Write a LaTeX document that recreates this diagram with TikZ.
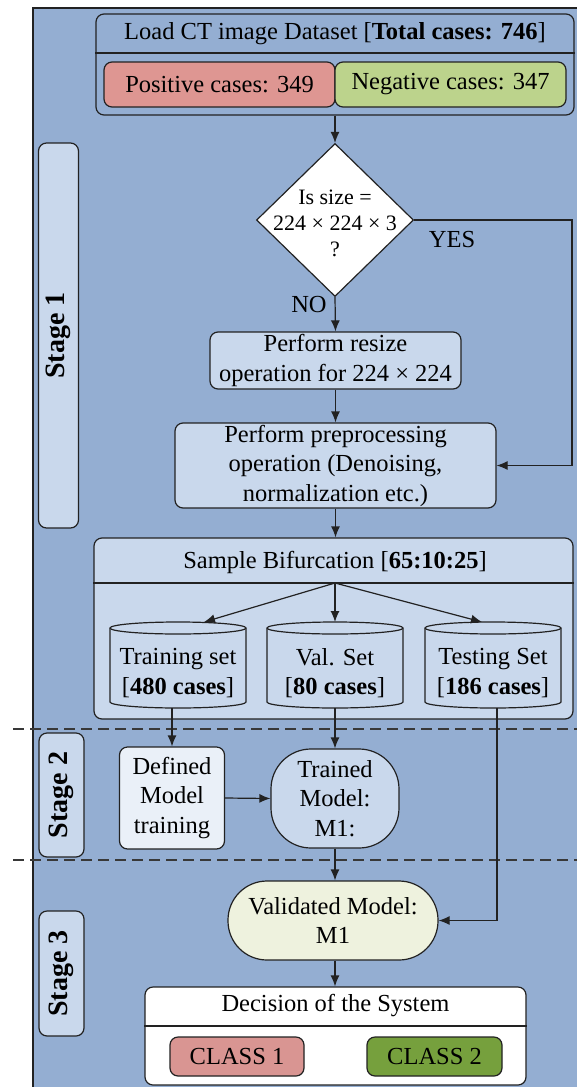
\documentclass[tikz,border=0pt]{standalone}
\usepackage{fontspec}
\setmainfont{Liberation Serif}
\usetikzlibrary{arrows.meta,shapes.geometric}
\definecolor{bgblue}{HTML}{94AED2}
\definecolor{boxblue}{HTML}{C9D8EC}
\definecolor{paleblue}{HTML}{EAF0F8}
\definecolor{posred}{HTML}{DE9692}
\definecolor{neggreen}{HTML}{BCD38C}
\definecolor{clsred}{HTML}{D99592}
\definecolor{clsgreen}{HTML}{76A03D}
\definecolor{valyellow}{HTML}{EEF2DE}
\definecolor{ink}{HTML}{222222}

\tikzset{
  panel/.style={draw=ink, rounded corners=8pt, inner sep=0pt},
  stepbox/.style={panel, fill=boxblue, align=center},
  label/.style={inner sep=0pt, align=center},
  stagebox/.style={panel, fill=boxblue},
  stagetext/.style={inner sep=0pt, rotate=90, font=\fontsize{28}{32}\selectfont\bfseries},
  arr/.style={draw=ink, -{Latex[length=11pt,width=9pt]}},
  sep/.style={draw=ink!90, dash pattern=on 11pt off 6pt},
}

\begin{document}
\begin{tikzpicture}[x=1pt, y=-1pt, line width=1.2pt,
  font=\fontsize{24.5}{29.5}\selectfont]
\useasboundingbox (0,0) rectangle (577,1087);

% background panel
\fill[bgblue] (33,8) rectangle (577,1087);
\draw[ink] (33,1087) -- (33,8) -- (577,8);

% stage separators
\draw[sep] (13,729) -- (577,729);
\draw[sep] (13,860) -- (577,860);

% stage tags
\node[stagebox, minimum width=40, minimum height=385] (s1box) at (58.5,335.5) {};
\node[stagetext] (s1) at (s1box.center) {Stage 1};
\node[stagebox, minimum width=45, minimum height=124] (s2box) at (61.5,795) {};
\node[stagetext] (s2) at (s2box.center) {Stage 2};
\node[stagebox, minimum width=45, minimum height=125] (s3box) at (61.5,973.5) {};
\node[stagetext] (s3) at (s3box.center) {Stage 3};

% dataset
\node[panel, fill=bgblue, minimum width=478, minimum height=101] (dataset) at (335,64.5) {};
\node[label] (dstitle) at (335,33.5) {Load CT image Dataset [\textbf{Total cases: 746}]};
\draw[ink] (dataset.west |- 0,53) -- (dataset.east |- 0,53);
\node[panel, fill=posred, minimum width=231, minimum height=45] (pos) at (219.5,84.5) {Positive cases: 349};
\node[panel, fill=neggreen, minimum width=231, minimum height=45] (neg) at (450.5,84.5) {Negative cases: 347};

% size check
\node[diamond, draw=ink, fill=white, inner sep=0pt, minimum width=157, minimum height=153] (check) at (335,220) {};
\node[label, font=\fontsize{22}{26}\selectfont] (checktext) at (335,223) {Is size =\\224 × 224 × 3\\?};

% resize and preprocessing
\node[stepbox, minimum width=251, minimum height=57] (resize) at (335.5,360.5) {Perform resize\\operation for 224 × 224};
\node[stepbox, minimum width=321, minimum height=85] (prep) at (335.5,465.5) {Perform preprocessing\\operation (Denoising,\\normalization etc.)};

% sample split
\node[panel, fill=boxblue, minimum width=479, minimum height=181] (sample) at (333.5,628.5) {};
\node[label] (sampletitle) at (335,562) {Sample Bifurcation [\textbf{65:10:25}]};
\draw[ink] (sample.west |- 0,583) -- (sample.east |- 0,583);
\coordinate (split) at (335,583);

% data sets as cylinders
\draw[ink, fill=boxblue] (110,628) -- (110,702) arc[start angle=180, end angle=360, x radius=68pt, y radius=6pt]
  -- (246,628) arc[start angle=0, end angle=180, x radius=68pt, y radius=6pt] -- cycle;
\draw[ink] (110,628) arc[start angle=180, end angle=360, x radius=68pt, y radius=6pt];
\draw[ink, fill=boxblue] (267,628) -- (267,702) arc[start angle=180, end angle=360, x radius=68pt, y radius=6pt]
  -- (403,628) arc[start angle=0, end angle=180, x radius=68pt, y radius=6pt] -- cycle;
\draw[ink] (267,628) arc[start angle=180, end angle=360, x radius=68pt, y radius=6pt];
\draw[ink, fill=boxblue] (425,628) -- (425,702) arc[start angle=180, end angle=360, x radius=68pt, y radius=6pt]
  -- (561,628) arc[start angle=0, end angle=180, x radius=68pt, y radius=6pt] -- cycle;
\draw[ink] (425,628) arc[start angle=180, end angle=360, x radius=68pt, y radius=6pt];
\node[label] (trainset) at (178,673) {Training set\\{}[\textbf{480 cases}]};
\node[label] (valset) at (335,673) {Val. Set\\{}[\textbf{80 cases}]};
\node[label] (testset) at (493,673) {Testing Set\\{}[\textbf{186 cases}]};
\coordinate (traintop) at (204,622);
\coordinate (valtop) at (335,622);
\coordinate (testtop) at (482,622);
\coordinate (trainbot) at (172,708);
\coordinate (valbot) at (335,708);
\coordinate (testbot) at (497,708);

% stage 2
\node[panel, fill=paleblue, align=center, minimum width=105, minimum height=102] (defined) at (172,798) {Defined\\Model\\training};
\node[draw=ink, fill=boxblue, rounded corners=40pt, inner sep=0pt, align=center, minimum width=128, minimum height=99] (trained) at (335,798.5) {Trained\\Model:\\M1:};

% stage 3
\node[draw=ink, fill=valyellow, rounded corners=39pt, inner sep=0pt, align=center, minimum width=210, minimum height=79] (validated) at (333,920.5) {Validated Model:\\M1};
\node[panel, fill=white, minimum width=381, minimum height=98] (decision) at (335.5,1036) {};
\node[label] (dectitle) at (335.5,1006) {Decision of the System};
\draw[ink] (decision.west |- 0,1026) -- (decision.east |- 0,1026);
\node[panel, fill=clsred, minimum width=134, minimum height=39] (class1) at (237,1056.5) {CLASS 1};
\node[panel, fill=clsgreen, minimum width=135, minimum height=39] (class2) at (434.5,1056.5) {CLASS 2};

% connectors
\draw[arr] (dataset.south) -- (check.north);
\draw[arr] (check.south) -- (resize.north);
\node[label] (no) at (309,305) {NO};
\draw[arr] (check.east) -- (572,220) |- (prep.east);
\node[label] (yes) at (452,240) {YES};
\draw[arr] (resize.south) -- (prep.north);
\draw[arr] (prep.south) -- (sample.north -| prep.south);
\draw[arr] (split) -- (traintop);
\draw[arr] (split) -- (valtop);
\draw[arr] (split) -- (testtop);
\draw[arr] (trainbot) -- (defined.north);
\draw[arr] (valbot) -- (trained.north);
\draw[arr] (defined.east) -- (trained.west);
\draw[arr] (trained.south) -- (trained.south |- validated.north);
\draw[arr] (testbot) |- (validated.east);
\draw[arr] (validated.south -| trained.south) -- (decision.north -| trained.south);
\end{tikzpicture}
\end{document}
